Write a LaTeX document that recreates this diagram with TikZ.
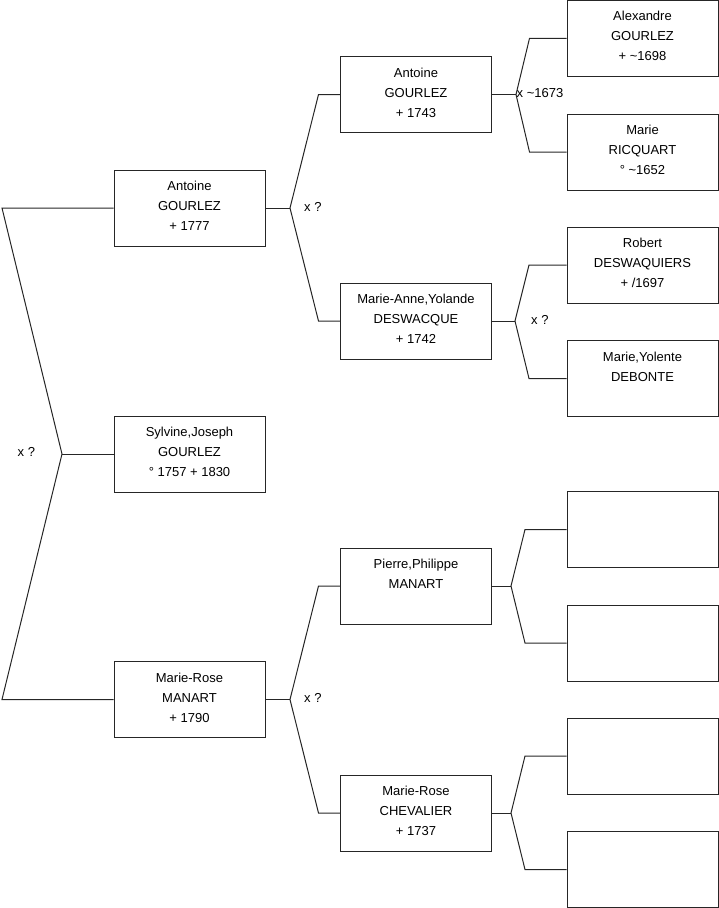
\documentclass[tikz,border=0pt]{standalone}
\usepackage{fontspec}
\setmainfont{Liberation Sans}
\begin{document}
\begin{tikzpicture}[x=1pt,y=-1pt,
  pbox/.style={draw=black!85,line width=1pt,minimum width=151pt,minimum height=76pt,inner sep=0pt},
  ptext/.style={anchor=north,align=center,inner sep=0pt,font=\fontsize{13}{20}\selectfont},
  lab/.style={anchor=west,inner sep=0pt,font=\fontsize{13}{15}\selectfont},
  con/.style={draw=black!85,line width=1pt}]
\useasboundingbox (0,0) rectangle (719,908);
\newcommand\pbox[4]{\node[pbox] (#1) at (#2,#3) {};
  \node[ptext] (#1t) at ([yshift=-11.5pt]#1.north) {#4};}
% generation 1
\pbox{A1}{189.5}{208}{Antoine\\GOURLEZ\\+ 1777}
\pbox{S}{189.5}{454}{Sylvine,Joseph\\GOURLEZ\\° 1757 + 1830}
\pbox{M1}{189.5}{699.5}{Marie-Rose\\MANART\\+ 1790}
% generation 2
\pbox{A2}{416}{94.5}{Antoine\\GOURLEZ\\+ 1743}
\pbox{D2}{416}{321}{Marie-Anne,Yolande\\DESWACQUE\\+ 1742}
\pbox{P2}{416}{586}{Pierre,Philippe\\MANART}
\pbox{C2}{416}{813}{Marie-Rose\\CHEVALIER\\+ 1737}
% generation 3
\pbox{A3}{642.5}{38.3}{Alexandre\\GOURLEZ\\+ \textasciitilde1698}
\pbox{R3}{642.5}{152}{Marie\\RICQUART\\° \textasciitilde1652}
\pbox{W3}{642.5}{265}{Robert\\DESWAQUIERS\\+ /1697}
\pbox{B3}{642.5}{378.5}{Marie,Yolente\\DEBONTE}
\pbox{E1}{642.5}{529.5}{}
\pbox{E2}{642.5}{643}{}
\pbox{E3}{642.5}{756}{}
\pbox{E4}{642.5}{869.5}{}
% junction coordinates
\coordinate (k0a) at (2,208);
\coordinate (j0) at (62,454);
\coordinate (k0b) at (2,699.5);
\coordinate (j1) at (290,208);
\coordinate (k1a) at (318.5,94.5);
\coordinate (k1b) at (318.5,321);
\coordinate (j2) at (290,699.5);
\coordinate (k2a) at (318.5,586);
\coordinate (k2b) at (318.5,813);
\coordinate (j3) at (516,94.5);
\coordinate (k3a) at (529.5,38.3);
\coordinate (k3b) at (529.5,152);
\coordinate (j4) at (515,321);
\coordinate (k4a) at (529,265);
\coordinate (k4b) at (529,378.5);
\coordinate (j5) at (511,586);
\coordinate (k5a) at (525,529.5);
\coordinate (k5b) at (525,643);
\coordinate (j6) at (511,813);
\coordinate (k6a) at (525,756);
\coordinate (k6b) at (525,869.5);
% connectors
\draw[con] (A1.west) -- (k0a) -- (j0) -- (k0b) -- (M1.west);
\draw[con] (j0) -- (S.west);
\draw[con] (A1.east) -- (j1);
\draw[con] (A2.west) -- (k1a) -- (j1) -- (k1b) -- (D2.west);
\draw[con] (M1.east) -- (j2);
\draw[con] (P2.west) -- (k2a) -- (j2) -- (k2b) -- (C2.west);
\draw[con] (A2.east) -- (j3);
\draw[con] (A3.west) -- (k3a) -- (j3) -- (k3b) -- (R3.west);
\draw[con] (D2.east) -- (j4);
\draw[con] (W3.west) -- (k4a) -- (j4) -- (k4b) -- (B3.west);
\draw[con] (P2.east) -- (j5);
\draw[con] (E1.west) -- (k5a) -- (j5) -- (k5b) -- (E2.west);
\draw[con] (C2.east) -- (j6);
\draw[con] (E3.west) -- (k6a) -- (j6) -- (k6b) -- (E4.west);
% labels
\node[lab] (l0) at (17.5,452) {x ?};
\node[lab] (l1) at (304,207) {x ?};
\node[lab] (l2) at (304,697.5) {x ?};
\node[lab] (l3) at (516.5,93.5) {x \textasciitilde1673};
\node[lab] (l4) at (531,320) {x ?};
\end{tikzpicture}
\end{document}
